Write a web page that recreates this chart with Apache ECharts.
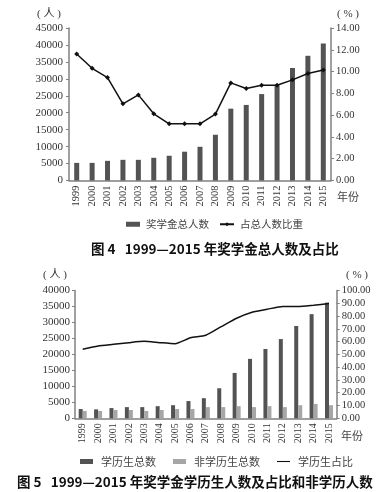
<!DOCTYPE html>
<html>
<head>
<meta charset="utf-8">
<script src="https://cdn.jsdelivr.net/npm/echarts@6/dist/echarts.min.js"></script>
<style>html,body{margin:0;padding:0;background:#fff}#c{width:392px;height:492px}</style>
</head>
<body>
<div id="c"></div>
<script>
var years = ['1999','2000','2001','2002','2003','2004','2005','2006','2007','2008','2009','2010','2011','2012','2013','2014','2015'];
// Figure 4
var scholarshipTotal = [5200,5200,5800,6100,6100,6700,7300,8500,9950,13500,21200,22300,25500,27900,33200,36800,40400];
var scholarshipShare = [11.62,10.30,9.45,7.04,7.86,6.12,5.20,5.20,5.20,6.10,8.96,8.44,8.74,8.74,9.24,9.82,10.15];
// Figure 5
var degreeTotal = [2900,2800,3200,3500,3500,3800,4100,5400,6300,9400,14200,18600,21700,24800,28900,32600,36200];
var nonDegreeTotal = [2300,2300,2600,2600,2300,2600,2900,2900,3500,3500,3800,3500,3800,3500,4100,4500,4100];
var degreeShare = [54.0,56.6,57.9,59.2,60.2,59.2,58.4,63.0,65.0,71.7,78.3,83.0,85.4,87.4,87.4,88.5,89.8];
// tick labels
var fig4LeftTicks = [0,5000,10000,15000,20000,25000,30000,35000,40000,45000];
var fig4RightTicks = [0,2,4,6,8,10,12,14];
var fig5LeftTicks = [0,5000,10000,15000,20000,25000,30000,35000,40000];
var fig5RightTicks = [0,10,20,30,40,50,60,70,80,90,100];
var names = ['奖学金总人数','占总人数比重','学历生总数','非学历生总数','学历生占比'];
var titles = ['图 4   1999—2015 年奖学金总人数及占比','图 5   1999—2015 年奖学金学历生人数及占比和非学历人数'];

var SERIF = "'Liberation Serif','Noto Sans CJK SC',serif";
var CJK = "'Noto Sans CJK SC','Liberation Serif',sans-serif";
var axisCol = '#808080';
var dark = '#535353', light = '#a6a6a6';

function stepOf(a){return a[1]-a[0];}
function yAxis(gi, ticks, pos, fmt, fs, margin){
  return {
    type:'value', gridIndex:gi, position:pos,
    min:ticks[0], max:ticks[ticks.length-1], interval:stepOf(ticks),
    axisLine:{show:true, lineStyle:{color:axisCol, width:1.5}},
    axisTick:{show:true, length:3, lineStyle:{color:axisCol}},
    splitLine:{show:false},
    axisLabel:{color:'#333', fontFamily:SERIF, fontSize:fs, margin:margin, formatter:fmt}
  };
}
function xAxis(gi, fs){
  return {
    type:'category', gridIndex:gi, data:years, boundaryGap:true,
    axisLine:{show:true, lineStyle:{color:axisCol, width:1.5}},
    axisTick:{show:false},
    axisLabel:{rotate:90, color:'#333', fontFamily:SERIF, fontSize:fs, margin:5, interval:0}
  };
}

var chart = echarts.init(document.getElementById('c'), null, {renderer:'canvas'});
chart.setOption({
  animation:false,
  backgroundColor:'#fff',
  grid:[
    {left:69, right:61, top:28, bottom:311.5, containLabel:false, outerBoundsMode:'none'},
    {left:75, right:55.3, top:290.5, bottom:73.7, containLabel:false, outerBoundsMode:'none'}
  ],
  xAxis:[xAxis(0,10.5), xAxis(1,10)],
  yAxis:[
    yAxis(0, fig4LeftTicks, 'left', function(v){return String(v);}, 11, 6),
    yAxis(0, fig4RightTicks, 'right', function(v){return v.toFixed(2);}, 10.5, 5),
    yAxis(1, fig5LeftTicks, 'left', function(v){return String(v);}, 11, 5),
    yAxis(1, fig5RightTicks, 'right', function(v){return v.toFixed(2);}, 10.5, 5)
  ],
  legend:[
    {left:121, top:214, itemWidth:14, itemHeight:5, itemGap:10,
     data:[{name:names[0], icon:'rect'},{name:names[1]}],
     textStyle:{fontFamily:CJK, fontSize:10.5, color:'#444', padding:[0,0,0,1]}},
    {left:75, top:451, itemWidth:13, itemHeight:5, itemGap:17,
     data:[{name:names[2], icon:'rect'},{name:names[3], icon:'rect'},{name:names[4], icon:'path://M0,0L24,0L24,2L0,2Z'}],
     textStyle:{fontFamily:CJK, fontSize:11, color:'#444', padding:[0,0,0,3]}}
  ],
  title:[
    {text:titles[0], left:86, top:237, textStyle:{fontFamily:CJK, fontSize:13.5, fontWeight:'bold', color:'#111'}},
    {text:titles[1], left:12, top:470, textStyle:{fontFamily:CJK, fontSize:13.5, fontWeight:'bold', color:'#111'}}
  ],
  graphic:[
    {type:'text', left:37, top:9, style:{text:'( 人 )', font:"11px 'Liberation Serif','Noto Sans CJK SC'", fill:'#333'}},
    {type:'text', left:337, top:9, style:{text:'( % )', font:"11px 'Liberation Serif','Noto Sans CJK SC'", fill:'#333'}},
    {type:'text', left:337, top:191, style:{text:'年份', font:"11px 'Noto Sans CJK SC'", fill:'#444'}},
    {type:'text', left:43, top:270, style:{text:'( 人 )', font:"11px 'Liberation Serif','Noto Sans CJK SC'", fill:'#333'}},
    {type:'text', left:346, top:270, style:{text:'( % )', font:"11px 'Liberation Serif','Noto Sans CJK SC'", fill:'#333'}},
    {type:'text', left:341, top:430, style:{text:'年份', font:"11px 'Noto Sans CJK SC'", fill:'#444'}}
  ],
  series:[
    {name:names[0], type:'bar', xAxisIndex:0, yAxisIndex:0, data:scholarshipTotal, barWidth:5, itemStyle:{color:dark}},
    {name:names[1], type:'line', xAxisIndex:0, yAxisIndex:1, data:scholarshipShare, symbol:'diamond', symbolSize:5,
     lineStyle:{color:'#111', width:1.5}, itemStyle:{color:'#111'}},
    {name:names[2], type:'bar', xAxisIndex:1, yAxisIndex:2, data:degreeTotal, barWidth:4, barGap:'0%', itemStyle:{color:dark}},
    {name:names[3], type:'bar', xAxisIndex:1, yAxisIndex:2, data:nonDegreeTotal, barWidth:4, barGap:'0%', itemStyle:{color:light}},
    {name:names[4], type:'line', xAxisIndex:1, yAxisIndex:3, data:degreeShare, symbol:'none', smooth:0.2,
     lineStyle:{color:'#111', width:1.5}, itemStyle:{color:'#111'}}
  ]
});
</script>
</body>
</html>
